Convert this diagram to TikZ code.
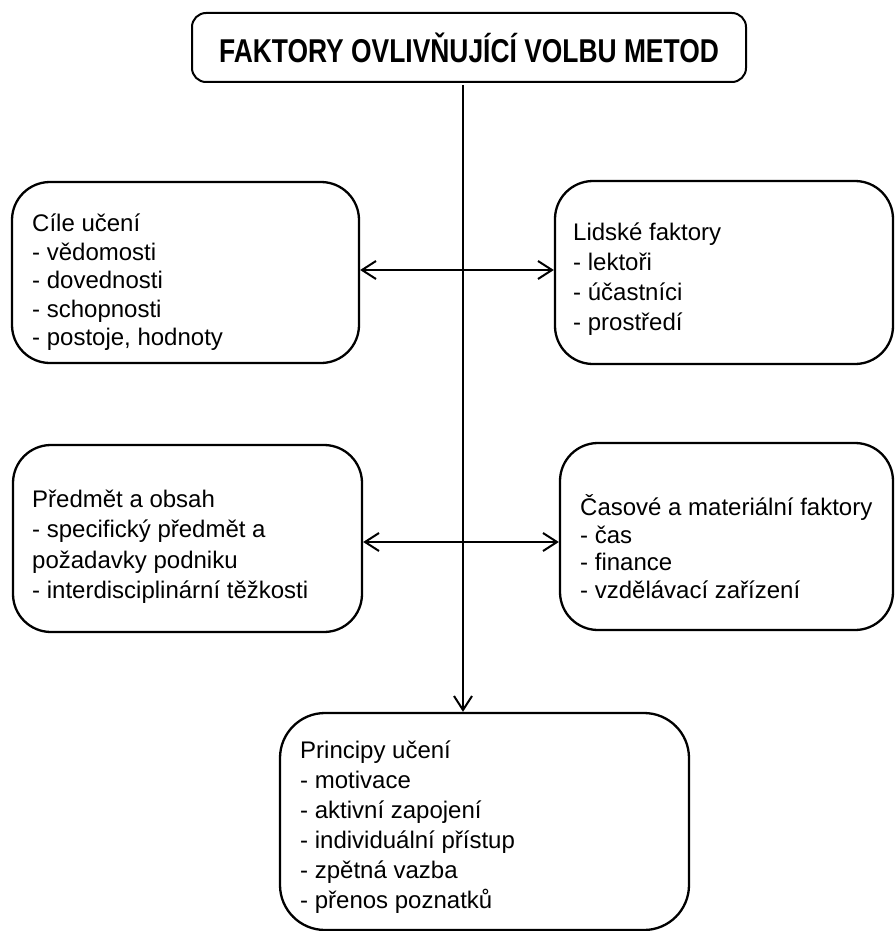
\documentclass[tikz,border=0pt]{standalone}
\usepackage{fontspec}
\setmainfont{Liberation Sans}
\usepackage{graphicx}
\usetikzlibrary{arrows.meta}
\begin{document}
\begin{tikzpicture}[x=1pt,y=-1pt,
  box/.style={draw, line width=2.3pt, rounded corners=38pt, inner sep=0pt},
  txt/.style={anchor=west, align=left, inner sep=0pt},
  titlebox/.style={draw, line width=2pt, rounded corners=14pt, inner sep=0pt},
  conn/.style={line width=2pt, arrows={Straight Barb[length=14pt,width=18pt]-Straight Barb[length=14pt,width=18pt]}},
  down/.style={line width=2pt, arrows={-Straight Barb[length=14pt,width=18pt]}}]
\useasboundingbox (0,0) rectangle (894,931);

\node[titlebox, minimum width=554pt, minimum height=69pt] (T) at (469,47.5)
  {\scalebox{0.8}[1]{\fontsize{33}{40}\selectfont\bfseries FAKTORY OVLIVŇUJÍCÍ VOLBU METOD}};

\node[box, minimum width=347pt, minimum height=181pt] (A) at (185.5,272.5) {};
\node[box, minimum width=338pt, minimum height=183pt] (B) at (724,272.5) {};
\node[box, minimum width=349pt, minimum height=187pt] (C) at (187.5,538.5) {};
\node[box, minimum width=333pt, minimum height=187pt] (D) at (726.5,536.5) {};
\node[box, rounded corners=45pt, minimum width=409pt, minimum height=217pt] (E) at (484.5,821.5) {};

\node[txt, font=\fontsize{24}{28.5}\selectfont] (At) at (32,282.5)
  {Cíle učení\\- vědomosti\\- dovednosti\\- schopnosti\\- postoje, hodnoty};
\node[txt, font=\fontsize{24}{30}\selectfont] (Bt) at (573,279.5)
  {Lidské faktory\\- lektoři\\- účastníci\\- prostředí};
\node[txt, font=\fontsize{24}{30.5}\selectfont] (Ct) at (32,546.5)
  {Předmět a obsah\\- specifický předmět a\\požadavky podniku\\- interdisciplinární těžkosti};
\node[txt, font=\fontsize{24}{27.5}\selectfont] (Dt) at (580,546.5)
  {Časové a materiální faktory\\- čas\\- finance\\- vzdělávací zařízení};
\node[txt, font=\fontsize{24}{30}\selectfont] (Et) at (300,827.5)
  {Principy učení\\- motivace\\- aktivní zapojení\\- individuální přístup\\- zpětná vazba\\- přenos poznatků};

\coordinate (top) at (463,85);
\coordinate (r1) at (0,270);
\coordinate (r2) at (0,542);

\draw[down] (top) -- (top |- E.north);
\draw[conn] (A.east |- r1) -- (B.west |- r1);
\draw[conn] (C.east |- r2) -- (D.west |- r2);
\end{tikzpicture}
\end{document}
